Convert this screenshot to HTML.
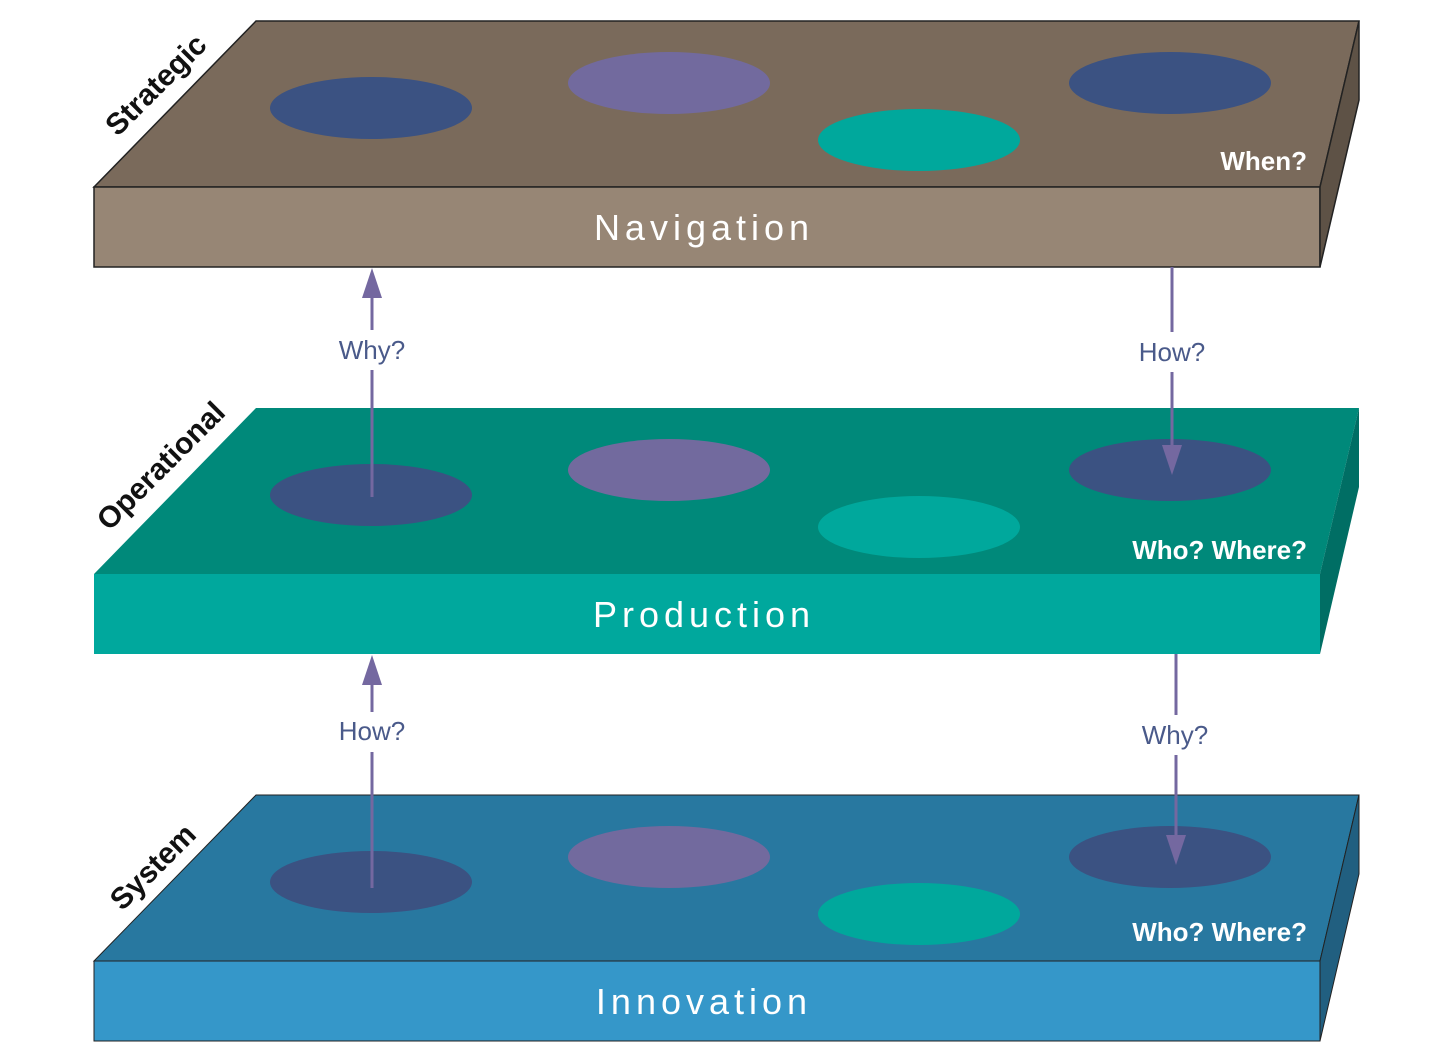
<!DOCTYPE html>
<html><head><style>body{margin:0;background:#fff}svg{display:block}</style></head><body>
<svg width="1456" height="1048" viewBox="0 0 1456 1048" xmlns="http://www.w3.org/2000/svg" font-family="Liberation Sans, sans-serif">
<defs>
<g id="ell">
<ellipse cx="371" cy="108" rx="101" ry="31" fill="#3b5282"/>
<ellipse cx="669" cy="83" rx="101" ry="31" fill="#726a9e"/>
<ellipse cx="919" cy="140" rx="101" ry="31" fill="#00a89c"/>
<ellipse cx="1170" cy="83" rx="101" ry="31" fill="#3b5282"/>
</g>
</defs>
<!-- top slab -->
<g stroke="#222" stroke-width="1.5">
<polygon points="94,187 256,21 1359,21 1320,187" fill="#7a6a5b"/>
<polygon points="94,187 1320,187 1320,267 94,267" fill="#978675"/>
<polygon points="1320,187 1359,21 1359,100 1320,267" fill="#5e5246"/>
</g>
<use href="#ell"/>
<text x="704" y="240" fill="#fff" font-size="36" text-anchor="middle" letter-spacing="5">Navigation</text>
<text x="1307" y="170" fill="#fff" font-size="26" font-weight="bold" text-anchor="end">When?</text>
<text x="0" y="0" font-size="30" font-weight="bold" fill="#111" text-anchor="middle" transform="translate(163,92) rotate(-45)">Strategic</text>

<!-- middle slab -->
<g transform="translate(0,387)">
<polygon points="94,187 256,21 1359,21 1320,187" fill="#00897a"/>
<polygon points="94,187 1320,187 1320,267 94,267" fill="#00a89d"/>
<polygon points="1320,187 1359,21 1359,100 1320,267" fill="#006e64"/>
<use href="#ell"/>
<text x="704" y="240" fill="#fff" font-size="36" text-anchor="middle" letter-spacing="5">Production</text>
<text x="1307" y="172" fill="#fff" font-size="26" font-weight="bold" text-anchor="end">Who? Where?</text>
<text x="0" y="0" font-size="30" font-weight="bold" fill="#111" text-anchor="middle" transform="translate(168,86) rotate(-45)">Operational</text>
</g>

<!-- bottom slab -->
<g transform="translate(0,774)">
<g stroke="#222" stroke-width="1"><polygon points="94,187 256,21 1359,21 1320,187" fill="#2878a0"/>
<polygon points="94,187 1320,187 1320,267 94,267" fill="#3597c9"/>
<polygon points="1320,187 1359,21 1359,100 1320,267" fill="#215f80"/></g>
<use href="#ell"/>
<text x="704" y="240" fill="#fff" font-size="36" text-anchor="middle" letter-spacing="5">Innovation</text>
<text x="1307" y="167" fill="#fff" font-size="26" font-weight="bold" text-anchor="end">Who? Where?</text>
<text x="0" y="0" font-size="30" font-weight="bold" fill="#111" text-anchor="middle" transform="translate(160,100) rotate(-45)">System</text>
</g>

<!-- arrows -->
<g stroke="#7468a0" stroke-width="3" fill="none">
<line x1="372" y1="497" x2="372" y2="370"/><line x1="372" y1="330" x2="372" y2="295"/>
<line x1="1172" y1="267" x2="1172" y2="332"/><line x1="1172" y1="372" x2="1172" y2="450"/>
<line x1="372" y1="888" x2="372" y2="752"/><line x1="372" y1="712" x2="372" y2="682"/>
<line x1="1176" y1="654" x2="1176" y2="715"/><line x1="1176" y1="755" x2="1176" y2="840"/>
</g>
<g fill="#7468a0">
<polygon points="372,268 362,298 382,298"/>
<polygon points="1172,475 1162,445 1182,445"/>
<polygon points="372,655 362,685 382,685"/>
<polygon points="1176,865 1166,835 1186,835"/>
</g>
<g fill="#4a5a8a" font-size="26" text-anchor="middle">
<text x="372" y="359">Why?</text>
<text x="1172" y="361">How?</text>
<text x="372" y="740">How?</text>
<text x="1175" y="744">Why?</text>
</g>
</svg>
</body></html>
